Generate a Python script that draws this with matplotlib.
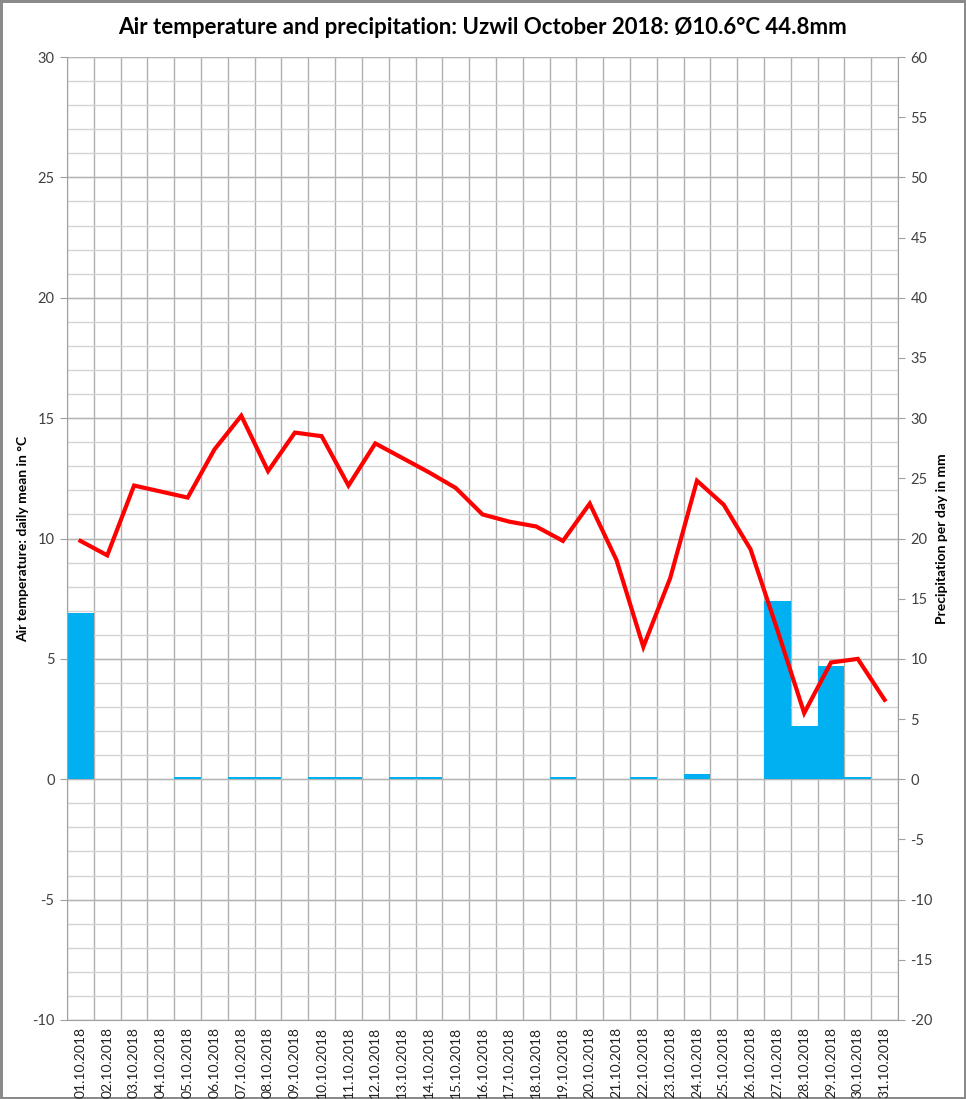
import numpy as np
import matplotlib
matplotlib.use("Agg")
import matplotlib.pyplot as plt
from matplotlib.ticker import MultipleLocator

plt.rcParams['font.family'] = ['Lato', 'DejaVu Sans']
plt.rcParams['axes.unicode_minus'] = False

# Data
dates = ["%02d.10.2018" % d for d in range(1, 32)]
temperature = [9.9, 9.3, 12.2, 11.95, 11.7, 13.7, 15.1, 12.8, 14.4, 14.25,
               12.2, 13.95, 13.35, 12.75, 12.1, 11.0, 10.7, 10.5, 9.9, 11.45,
               9.1, 5.5, 8.35, 12.4, 11.4, 9.55, 6.2, 2.75, 4.85, 5.0, 3.3]
precipitation = [13.8, 0, 0, 0, 0.2, 0, 0.2, 0.2, 0, 0.2,
                 0.2, 0, 0.2, 0.2, 0, 0, 0, 0, 0.2, 0,
                 0, 0.2, 0, 0.4, 0, 0, 14.8, 4.4, 9.4, 0.2, 0]

title = "Air temperature and precipitation: Uzwil October 2018: Ø10.6°C 44.8mm"

fig = plt.figure(figsize=(9.66, 10.99), dpi=100)
fig.patch.set_edgecolor('#8a8a8a')
fig.patch.set_linewidth(2.5)

ax_p = fig.add_axes([0.0694, 0.0719, 0.8602, 0.8762])
ax_t = ax_p.twinx()
x = np.arange(1, len(dates) + 1)

# precipitation bars (main axes, right scale)
ax_p.bar(x, precipitation, width=1.0, color='#00B0F0', zorder=2)
ax_p.set_ylim(-20, 60)
ax_p.set_xlim(0.5, len(dates) + 0.5)
ax_p.yaxis.set_major_locator(MultipleLocator(5))
ax_p.yaxis.set_minor_locator(MultipleLocator(2))
ax_p.yaxis.remove_overlapping_locs = False
ax_p.yaxis.tick_right()
ax_p.yaxis.set_label_position('right')
ax_p.set_ylabel("Precipitation per day in mm", fontsize=10, fontweight='bold', labelpad=2)
ax_p.tick_params(axis='y', which='major', length=5, color='#a0a0a0', labelsize=10.5,
                 labelcolor='#404040', pad=4)
ax_p.tick_params(axis='y', which='minor', length=0)

ax_p.set_xticks(x)
ax_p.set_xticklabels(dates, rotation=90, fontsize=10, color='#202020')
ax_p.set_xticks(np.arange(0.5, len(dates) + 1), minor=True)
ax_p.tick_params(axis='x', which='both', length=0, pad=5)

ax_p.set_axisbelow(True)
ax_p.grid(True, which='minor', axis='y', color='#d4d4d4', lw=1.0)
for yv in np.arange(-20, 61, 10):
    ax_p.axhline(yv, color='#b4b4b4', lw=1.0, zorder=0.6)
ax_p.grid(True, which='minor', axis='x', color='#b0b0b0', lw=1.0)
for side in ['left', 'right', 'top', 'bottom']:
    ax_p.spines[side].set_color('#a0a0a0')
ax_p.spines['top'].set_visible(False)

# temperature line (twin axes, left scale)
ax_t.plot(x, temperature, color='#FF0000', lw=3, solid_joinstyle='miter', zorder=3)
ax_t.set_ylim(-10, 30)
ax_t.yaxis.set_major_locator(MultipleLocator(5))
ax_t.yaxis.tick_left()
ax_t.yaxis.set_label_position('left')
ax_t.set_ylabel("Air temperature: daily mean in °C", fontsize=10, fontweight='bold', labelpad=2)
ax_t.tick_params(axis='y', length=5, color='#a0a0a0', labelsize=10.5,
                 labelcolor='#404040', pad=4)
for side in ['left', 'right', 'top', 'bottom']:
    ax_t.spines[side].set_visible(False)

fig.text(0.5, 0.975, title, ha='center', va='center', fontsize=16, fontweight='bold')

fig.savefig("out.png", dpi=100)
